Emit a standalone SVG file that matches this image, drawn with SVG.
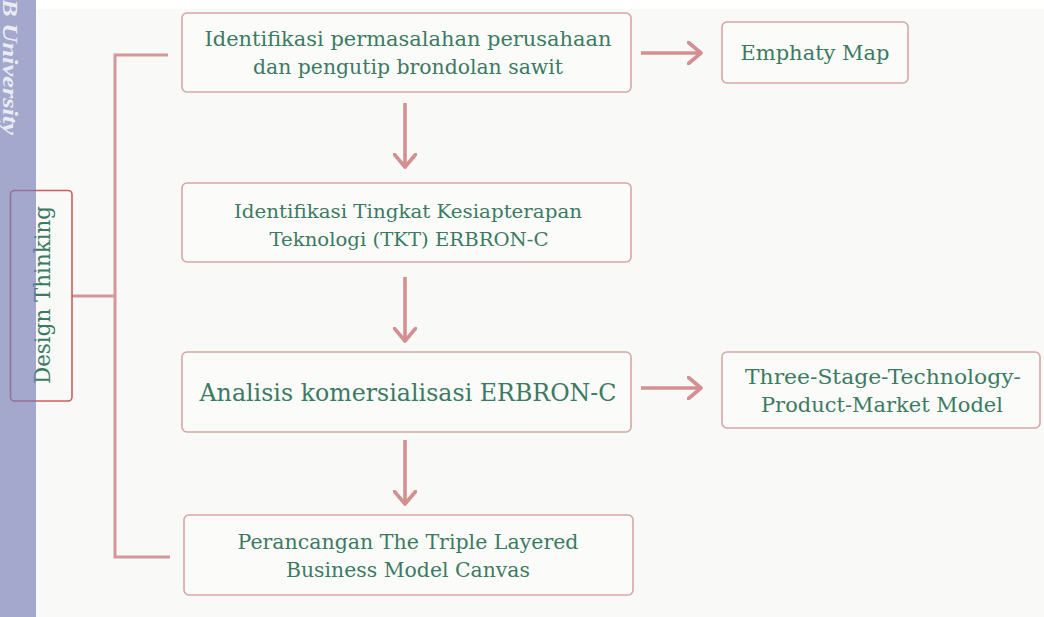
<svg xmlns="http://www.w3.org/2000/svg" width="1044" height="617" viewBox="0 0 1044 617">
  <defs>
    <style>
      .box { fill: #fbfbf9; stroke: #d6a6a6; stroke-width: 1.6; }
      .lbl { font-family: "DejaVu Serif", "Liberation Serif", serif; fill: #3b7a63; text-anchor: middle; }
      .flow { fill: none; stroke: #d48f91; stroke-width: 3.6; marker-end: url(#chev); }
      .tree { fill: none; stroke: #d4979a; stroke-width: 3; }
    </style>
    <marker id="chev" viewBox="0 0 16 24" refX="14" refY="12" markerWidth="16" markerHeight="24" markerUnits="userSpaceOnUse" orient="auto">
      <path d="M1.5,1.5 L14,12 L1.5,22.5" fill="none" stroke="#d48f91" stroke-width="3.6" stroke-linecap="round" stroke-linejoin="round"/>
    </marker>
  </defs>

  <!-- page -->
  <rect x="0" y="0" width="1044" height="617" fill="#f9f9f7"/>
  <rect x="36" y="0" width="1008" height="9" fill="#ffffff"/>

  <!-- connectors -->
  <g id="connectors">
    <path class="tree" d="M72,296 H115 M168,55 H115 V557 H170"/>
    <path class="flow" d="M405,103 V167"/>
    <path class="flow" d="M405,277 V341"/>
    <path class="flow" d="M405,440 V504"/>
    <path class="flow" d="M641,53 H701"/>
    <path class="flow" d="M641,388 H701"/>
  </g>

  <g id="design-thinking">
    <rect x="10.5" y="190.5" width="61.5" height="210.5" rx="4" fill="none" stroke="#d35a5c" stroke-width="1.6"/>
    <text class="lbl" transform="translate(50,295) rotate(-90)" font-size="22" textLength="178" lengthAdjust="spacingAndGlyphs">Design Thinking</text>
  </g>

  <g id="identifikasi-permasalahan">
    <rect class="box" x="182" y="13" width="449" height="79" rx="5"/>
    <text class="lbl" x="408" y="46" font-size="20" textLength="407" lengthAdjust="spacingAndGlyphs">Identifikasi permasalahan perusahaan</text>
    <text class="lbl" x="408" y="74" font-size="20" textLength="310" lengthAdjust="spacingAndGlyphs">dan pengutip brondolan sawit</text>
  </g>

  <g id="emphaty-map">
    <rect class="box" x="722" y="22" width="186" height="61" rx="5"/>
    <text class="lbl" x="815" y="60" font-size="21" textLength="149" lengthAdjust="spacingAndGlyphs">Emphaty Map</text>
  </g>

  <g id="identifikasi-tkt">
    <rect class="box" x="182" y="183" width="449" height="79" rx="5"/>
    <text class="lbl" x="408" y="218" font-size="19" textLength="348" lengthAdjust="spacingAndGlyphs">Identifikasi Tingkat Kesiapterapan</text>
    <text class="lbl" x="409" y="246" font-size="19" textLength="279" lengthAdjust="spacingAndGlyphs">Teknologi (TKT) ERBRON-C</text>
  </g>

  <g id="analisis-komersialisasi">
    <rect class="box" x="182" y="352" width="449" height="80" rx="5"/>
    <text class="lbl" x="408" y="401" font-size="24" textLength="417" lengthAdjust="spacingAndGlyphs">Analisis komersialisasi ERBRON-C</text>
  </g>

  <g id="three-stage-model">
    <rect class="box" x="722" y="352" width="318" height="76" rx="5"/>
    <text class="lbl" x="883" y="384" font-size="20" textLength="276" lengthAdjust="spacingAndGlyphs">Three-Stage-Technology-</text>
    <text class="lbl" x="882" y="412" font-size="20" textLength="242" lengthAdjust="spacingAndGlyphs">Product-Market Model</text>
  </g>

  <g id="perancangan-tlbmc">
    <rect class="box" x="184" y="515" width="449" height="80" rx="5"/>
    <text class="lbl" x="408" y="549" font-size="20" textLength="341" lengthAdjust="spacingAndGlyphs">Perancangan The Triple Layered</text>
    <text class="lbl" x="408" y="577" font-size="20" textLength="244" lengthAdjust="spacingAndGlyphs">Business Model Canvas</text>
  </g>

  <!-- side band with institution name -->
  <rect x="0" y="0" width="36" height="617" fill="#757db5" fill-opacity="0.65"/>
  <text transform="translate(3,-1) rotate(90)" font-family="'Liberation Serif', serif" font-style="italic" font-weight="bold" font-size="22" fill="#ffffff" fill-opacity="0.8" textLength="136" lengthAdjust="spacingAndGlyphs">B University</text>
</svg>
